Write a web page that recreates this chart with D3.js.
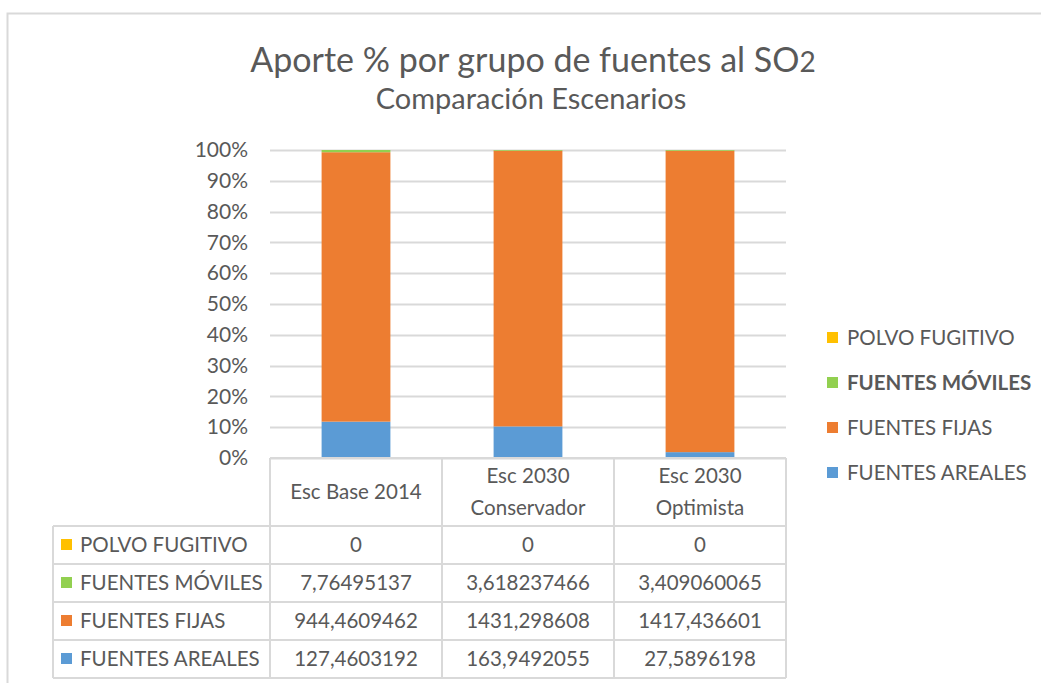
<!DOCTYPE html>
<html>
<head>
<meta charset="utf-8">
<script src="https://cdn.jsdelivr.net/npm/d3@7"></script>
<style>
  html, body { margin: 0; padding: 0; background: #fff; }
  svg { display: block; font-family: Lato, "Open Sans", sans-serif; }
</style>
</head>
<body>
<svg id="chart" width="1041" height="683"></svg>
<script>
// Scenarios (columns) and emission groups (stack order, bottom to top)
const scenarios = ["Esc Base 2014", "Esc 2030 Conservador", "Esc 2030 Optimista"];
const scenarioLines = [["Esc Base 2014"], ["Esc 2030", "Conservador"], ["Esc 2030", "Optimista"]];
const groups = ["FUENTES AREALES", "FUENTES FIJAS", "FUENTES MÓVILES", "POLVO FUGITIVO"];
const groupColors = ["#5B9BD5", "#ED7D31", "#92D050", "#FFC000"];

// SO2 emissions per group and scenario
const fuentesAreales = [127.4603192, 163.9492055, 27.5896198];
const fuentesFijas = [944.4609462, 1431.298608, 1417.436601];
const fuentesMoviles = [7.76495137, 3.618237466, 3.409060065];
const polvoFugitivo = [0, 0, 0];

const yTicks = [0, 0.1, 0.2, 0.3, 0.4, 0.5, 0.6, 0.7, 0.8, 0.9, 1];

const seriesValues = [fuentesAreales, fuentesFijas, fuentesMoviles, polvoFugitivo];
const rows = scenarios.map((s, i) => {
  const r = { scenario: s };
  groups.forEach((g, k) => { r[g] = seriesValues[k][i]; });
  return r;
});

const svg = d3.select("#chart");
const textColor = "#595959";
const gridColor = "#D9D9D9";
const bodySize = 20.5;

// Outer chart frame
svg.append("rect")
  .attr("x", 7.5).attr("y", 13.5)
  .attr("width", 1050).attr("height", 700)
  .attr("fill", "#fff").attr("stroke", gridColor).attr("stroke-width", 2);

// Titles
const title = svg.append("text")
  .attr("x", 533).attr("y", 72)
  .attr("text-anchor", "middle")
  .attr("font-size", 34).attr("fill", textColor);
title.append("tspan").text("Aporte % por grupo de fuentes al SO");
title.append("tspan").attr("font-size", 28).text("2");
svg.append("text")
  .attr("x", 531).attr("y", 109)
  .attr("text-anchor", "middle")
  .attr("font-size", 29).attr("fill", textColor)
  .text("Comparación Escenarios");

// Plot area
const plot = { left: 270, right: 786, top: 150, bottom: 458 };
const x = d3.scaleBand().domain(scenarios).range([plot.left, plot.right]).paddingInner(0.6).paddingOuter(0.3);
const xCol = d3.scaleBand().domain(scenarios).range([plot.left, plot.right]);
const y = d3.scaleLinear().domain([0, 1]).range([plot.bottom, plot.top]);

// Gridlines
svg.append("g")
  .selectAll("line")
  .data(yTicks)
  .join("line")
  .attr("x1", plot.left).attr("x2", plot.right)
  .attr("y1", d => Math.round(y(d)) + 0.5).attr("y2", d => Math.round(y(d)) + 0.5)
  .attr("stroke", gridColor).attr("stroke-width", 2);

// Y axis labels
const yAxis = d3.axisLeft(y).tickValues(yTicks).tickFormat(d3.format(".0%")).tickSize(0).tickPadding(22);
const yg = svg.append("g").attr("transform", `translate(${plot.left},0)`).call(yAxis);
yg.select(".domain").remove();
yg.selectAll("text").attr("font-size", 21).attr("fill", textColor).attr("font-family", "Lato, sans-serif");

// 100% stacked bars
const stack = d3.stack().keys(groups).offset(d3.stackOffsetExpand);
const stacked = stack(rows);
svg.append("g")
  .selectAll("g")
  .data(stacked)
  .join("g")
  .attr("fill", (d, i) => groupColors[i])
  .selectAll("rect")
  .data(d => d)
  .join("rect")
  .attr("x", d => x(d.data.scenario))
  .attr("width", x.bandwidth())
  .attr("y", d => y(d[1]))
  .attr("height", d => Math.max(0, y(d[0]) - y(d[1])));

// Data table
const tableLeft = 53;
const rowEdges = [458, 526, 564, 602, 640, 678];
const tableRows = [
  { name: groups[3], color: groupColors[3], values: polvoFugitivo },
  { name: groups[2], color: groupColors[2], values: fuentesMoviles },
  { name: groups[1], color: groupColors[1], values: fuentesFijas },
  { name: groups[0], color: groupColors[0], values: fuentesAreales }
];
const fmt = v => {
  let s = v.toPrecision(10);
  if (s.includes(".")) s = s.replace(/0+$/, "").replace(/\.$/, "");
  return s.replace(".", ",");
};

const tbl = svg.append("g").attr("stroke", gridColor).attr("stroke-width", 2).attr("fill", "none");
// horizontal lines
rowEdges.forEach((yy, i) => {
  tbl.append("line")
    .attr("x1", i === 0 ? plot.left : tableLeft).attr("x2", plot.right)
    .attr("y1", yy).attr("y2", yy);
});
// vertical lines
tbl.append("line").attr("x1", tableLeft).attr("x2", tableLeft).attr("y1", rowEdges[1]).attr("y2", rowEdges[5]);
[plot.left, ...scenarios.map(s => xCol(s) + xCol.bandwidth())].forEach(xx => {
  tbl.append("line").attr("x1", xx).attr("x2", xx).attr("y1", rowEdges[0]).attr("y2", rowEdges[5]);
});

// header labels
const header = svg.append("g").attr("fill", textColor).attr("font-size", bodySize).attr("text-anchor", "middle");
scenarios.forEach((s, i) => {
  const lines = scenarioLines[i];
  const cx = xCol(s) + xCol.bandwidth() / 2;
  const cy = (rowEdges[0] + rowEdges[1]) / 2;
  lines.forEach((ln, j) => {
    header.append("text")
      .attr("x", cx)
      .attr("y", cy + (j - (lines.length - 1) / 2) * 32)
      .attr("dy", "0.35em")
      .text(ln);
  });
});

// body rows
tableRows.forEach((r, i) => {
  const cy = (rowEdges[i + 1] + rowEdges[i + 2]) / 2;
  svg.append("rect")
    .attr("x", 61).attr("y", cy - 6).attr("width", 11).attr("height", 11)
    .attr("fill", r.color);
  svg.append("text")
    .attr("x", 80).attr("y", cy).attr("dy", "0.35em")
    .attr("font-size", bodySize).attr("fill", textColor)
    .text(r.name);
  scenarios.forEach((s, j) => {
    svg.append("text")
      .attr("x", xCol(s) + xCol.bandwidth() / 2).attr("y", cy).attr("dy", "0.35em")
      .attr("text-anchor", "middle")
      .attr("font-size", bodySize).attr("fill", textColor)
      .text(fmt(r.values[j]));
  });
});

// Legend (top to bottom: reverse stack order)
const legendItems = groups.slice().reverse();
const lg = svg.append("g");
legendItems.forEach((g, i) => {
  const cy = 338 + i * 45;
  const idx = groups.indexOf(g);
  lg.append("rect")
    .attr("x", 827).attr("y", cy - 6).attr("width", 11).attr("height", 11)
    .attr("fill", groupColors[idx]);
  lg.append("text")
    .attr("x", 847).attr("y", cy).attr("dy", "0.35em")
    .attr("font-size", bodySize).attr("fill", textColor)
    .attr("font-weight", g === "FUENTES MÓVILES" ? "bold" : "normal")
    .text(g);
});
</script>
</body>
</html>
